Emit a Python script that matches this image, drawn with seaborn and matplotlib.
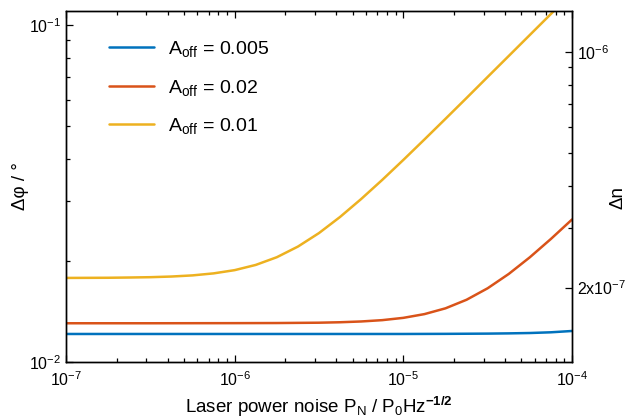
import matplotlib
matplotlib.use("Agg")
import matplotlib.pyplot as plt
import matplotlib.ticker as mticker
import numpy as np
import pandas as pd
import seaborn as sns

# Phase uncertainty versus laser power noise for three offset amplitudes
labels = ["0.005", "0.02", "0.01"]
colors = ["#0072BD", "#D95319", "#EDB120"]

# log10 of laser power noise P_N / P_0 Hz^-1/2
blue_logx = [-7.0, -6.0, -5.0, -4.75, -4.5, -4.375, -4.25, -4.125, -4.0]
blue_phi = [0.01211, 0.01211, 0.01211, 0.01212, 0.01214, 0.01216, 0.01219,
            0.01225, 0.01236]

red_logx = [-7.0, -6.5, -6.0, -5.75, -5.5, -5.375, -5.25, -5.125, -5.0,
            -4.875, -4.75, -4.625, -4.5, -4.375, -4.25, -4.125, -4.0]
red_phi = [0.01303, 0.01303, 0.01304, 0.01305, 0.01308, 0.01312, 0.01319,
           0.01331, 0.01352, 0.01387, 0.01443, 0.01530, 0.01655, 0.01825,
           0.02045, 0.02318, 0.02647]

yellow_logx = [-7.0, -6.875, -6.75, -6.625, -6.5, -6.375, -6.25, -6.125,
               -6.0, -5.875, -5.75, -5.625, -5.5, -5.375, -5.25, -5.125,
               -5.0, -4.875, -4.75, -4.625, -4.5, -4.375, -4.25, -4.125, -4.0]
yellow_phi = [0.01776, 0.01777, 0.01778, 0.01781, 0.01785, 0.01793, 0.01807,
              0.01832, 0.01873, 0.01941, 0.02046, 0.02200, 0.02413, 0.02694,
              0.03045, 0.03470, 0.03977, 0.04573, 0.05267, 0.06073, 0.07012,
              0.08091, 0.09339, 0.1078, 0.1245]

# refractive-index change per degree of phase
dn_per_deg = 1e-6 / 0.08315

series = [(blue_logx, blue_phi), (red_logx, red_phi), (yellow_logx, yellow_phi)]
frames = []
for lab, (lx, ph) in zip(labels, series):
    frames.append(pd.DataFrame({"noise": np.power(10.0, lx), "phi": ph,
                                "A_off": lab}))
df = pd.concat(frames, ignore_index=True)

sns.set_style("ticks")
plt.rcParams["font.family"] = ["Liberation Sans", "DejaVu Sans"]
plt.rcParams["mathtext.fontset"] = "custom"
plt.rcParams["mathtext.rm"] = "Liberation Sans"
plt.rcParams["mathtext.it"] = "Liberation Sans:italic"
plt.rcParams["mathtext.bf"] = "Liberation Sans:bold"
for key in ("text.color", "axes.labelcolor", "xtick.color", "ytick.color",
            "axes.edgecolor"):
    plt.rcParams[key] = "black"

fig = plt.figure(figsize=(6.28, 4.18), dpi=100)
ax = fig.add_axes([66 / 628, 1 - 362 / 418, 506 / 628, 351 / 418])

for lab, col in zip(labels, colors):
    sns.lineplot(data=df[df["A_off"] == lab], x="noise", y="phi", ax=ax,
                 color=col, linewidth=1.8, label=r"A$_\mathrm{off}$ = " + lab,
                 estimator=None, sort=False)

ax.set_xscale("log")
ax.set_yscale("log")
ax.set_xlim(1e-7, 1e-4)
ax.set_ylim(0.01, 0.11)

ax.yaxis.set_major_locator(mticker.FixedLocator([0.01, 0.1]))
ax.yaxis.set_minor_locator(mticker.LogLocator(base=10, subs=np.arange(2, 10)))
ax.yaxis.set_minor_formatter(mticker.NullFormatter())
ax.xaxis.set_minor_formatter(mticker.NullFormatter())

ax.tick_params(which="both", direction="in", top=True, right=False,
               labelsize=11.5, colors="black", width=0.9)
ax.tick_params(which="major", length=5)
ax.tick_params(which="minor", length=3)
ax.tick_params(axis="x", pad=6)

for sp in ax.spines.values():
    sp.set_linewidth(1.0)
    sp.set_color("black")

ax.set_xlabel(r"Laser power noise P$_\mathrm{N}$ / P$_0$Hz$^{\mathbf{-1/2}}$",
              fontsize=13.5, labelpad=4)
ax.set_ylabel("Δφ / °", fontsize=13.5)
ax.yaxis.set_label_coords(-0.073, 0.5)

leg = ax.legend(loc="upper left", bbox_to_anchor=(0.085, 0.92), frameon=False,
                fontsize=14, handlelength=2.3, handletextpad=0.75,
                labelspacing=0.95, borderpad=0, borderaxespad=0)

# right axis: refractive-index change on the same log scale
ax2 = ax.twinx()
ax2.set_yscale("log")
ax2.set_ylim(0.01 * dn_per_deg, 0.11 * dn_per_deg)
ax2.yaxis.set_major_locator(mticker.FixedLocator([2e-7, 1e-6]))
ax2.yaxis.set_major_formatter(mticker.FixedFormatter([r"2x10$^{-7}$", r"10$^{-6}$"]))
ax2.yaxis.set_minor_locator(mticker.FixedLocator([k * 1e-7 for k in range(3, 10)]))
ax2.yaxis.set_minor_formatter(mticker.NullFormatter())
ax2.tick_params(which="both", direction="in", labelsize=11.5, width=0.9,
                colors="black")
ax2.tick_params(which="major", length=5)
ax2.tick_params(which="minor", length=3)
ax2.set_ylabel("Δn", fontsize=13.5)
ax2.yaxis.set_label_coords(1.075, 0.47)
for sp in ax2.spines.values():
    sp.set_linewidth(1.0)
    sp.set_color("black")

fig.savefig("out.png", dpi=100)
